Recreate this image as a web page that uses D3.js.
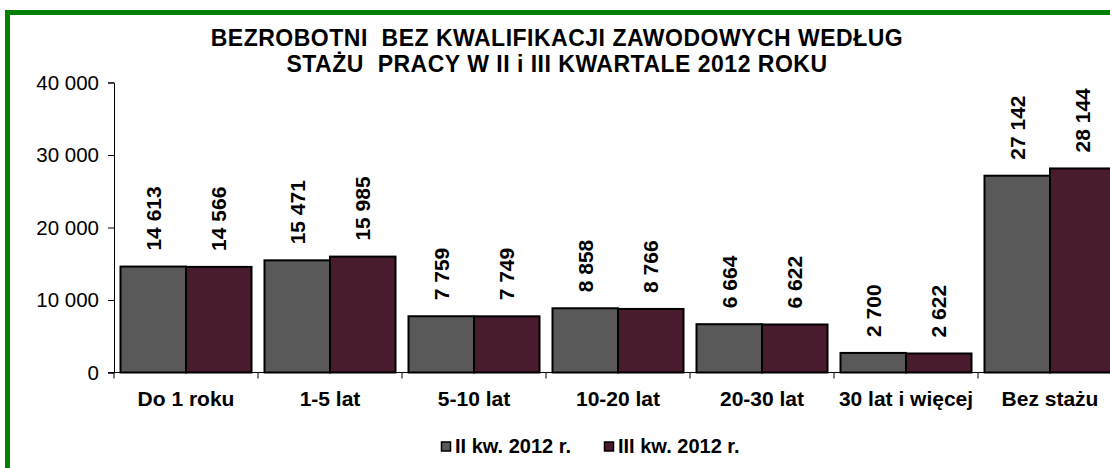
<!DOCTYPE html>
<html>
<head>
<meta charset="utf-8">
<script src="https://cdn.jsdelivr.net/npm/d3@7"></script>
<style>
  body { margin: 0; background: #fff; }
  text { font-family: "Liberation Sans", Arial, sans-serif; fill: #000; white-space: pre; }
</style>
</head>
<body>
<svg width="1110" height="468"></svg>
<script>
var categories = ['Do 1 roku', '1-5 lat', '5-10 lat', '10-20 lat', '20-30 lat', '30 lat i więcej', 'Bez stażu'];
var seriesNames = ['II kw. 2012 r.', 'III kw. 2012 r.'];
var q2Values = [14613, 15471, 7759, 8858, 6664, 2700, 27142];
var q3Values = [14566, 15985, 7749, 8766, 6622, 2622, 28144];
var yTicks = [0, 10000, 20000, 30000, 40000];
var titleLines = ['BEZROBOTNI  BEZ KWALIFIKACJI ZAWODOWYCH WEDŁUG', 'STAŻU  PRACY W II i III KWARTALE 2012 ROKU'];
var colors = ['#595959', '#481b2f'];

var svg = d3.select('svg');

// green frame, its right and bottom edges fall outside the picture
svg.append('rect')
  .attr('x', 7.5).attr('y', 12.5)
  .attr('width', 1300).attr('height', 700)
  .attr('fill', 'none')
  .attr('stroke', '#008000')
  .attr('stroke-width', 5);

// format numbers with a space as thousands separator
var fmt = function(v) {
  return d3.format(',')(v).replace(/,/g, ' ');
};

var y = d3.scaleLinear().domain([0, 40000]).range([372.5, 82.5]);
var x = d3.scaleBand().domain(categories).range([114, 1122]).padding(0);
var xs = d3.scaleBand().domain([0, 1]).range([6.5, x.bandwidth() - 6.5]).padding(0);

// title
svg.selectAll('text.title')
  .data(titleLines)
  .enter().append('text')
  .attr('class', 'title')
  .attr('x', 557)
  .attr('y', function(d, i) { return 46 + i * 26; })
  .attr('text-anchor', 'middle')
  .attr('font-size', 23)
  .attr('letter-spacing', 0.5)
  .attr('font-weight', 'bold')
  .text(function(d) { return d; });

// y axis
var yAxis = d3.axisLeft(y)
  .tickValues(yTicks)
  .tickSize(6)
  .tickPadding(9)
  .tickFormat(fmt);
var gy = svg.append('g').attr('transform', 'translate(114,0)').call(yAxis);
gy.select('.domain').attr('stroke', '#000').attr('stroke-width', 1);
gy.selectAll('.tick line').attr('stroke', '#000');
gy.selectAll('.tick text')
  .attr('font-size', 20.5)
  .attr('font-family', '"Liberation Sans", Arial, sans-serif')
  .attr('fill', '#000');

// x axis line with ticks between categories
svg.append('line')
  .attr('x1', 108).attr('x2', 1122)
  .attr('y1', y(0)).attr('y2', y(0))
  .attr('stroke', '#000');
svg.selectAll('line.xtick')
  .data(categories)
  .enter().append('line')
  .attr('class', 'xtick')
  .attr('x1', function(d) { return x(d); })
  .attr('x2', function(d) { return x(d); })
  .attr('y1', y(0)).attr('y2', y(0) + 6)
  .attr('stroke', '#000');

svg.selectAll('text.cat')
  .data(categories)
  .enter().append('text')
  .attr('class', 'cat')
  .attr('x', function(d) { return x(d) + x.bandwidth() / 2; })
  .attr('y', 406)
  .attr('text-anchor', 'middle')
  .attr('font-size', 21)
  .attr('font-weight', 'bold')
  .text(function(d) { return d; });

// bars
var series = [q2Values, q3Values];
series.forEach(function(vals, s) {
  var g = svg.append('g');
  g.selectAll('rect')
    .data(vals)
    .enter().append('rect')
    .attr('x', function(d, i) { return x(categories[i]) + xs(s); })
    .attr('y', function(d) { return y(d); })
    .attr('width', xs.bandwidth())
    .attr('height', function(d) { return y(0) - y(d); })
    .attr('fill', colors[s])
    .attr('stroke', '#000')
    .attr('stroke-width', 2);

  g.selectAll('text')
    .data(vals)
    .enter().append('text')
    .attr('transform', function(d, i) {
      var cx = x(categories[i]) + xs(s) + xs.bandwidth() / 2 + 7.5;
      return 'translate(' + cx + ',' + (y(d) - 16) + ') rotate(-90)';
    })
    .attr('font-size', 21)
    .attr('font-weight', 'bold')
    .text(function(d) { return fmt(d); });
});

// legend
var legendX = [441, 604];
var lg = svg.selectAll('g.legend')
  .data(seriesNames)
  .enter().append('g')
  .attr('class', 'legend')
  .attr('transform', function(d, i) { return 'translate(' + legendX[i] + ',0)'; });
lg.append('rect')
  .attr('x', 0.5).attr('y', 442)
  .attr('width', 9).attr('height', 9)
  .attr('fill', function(d, i) { return colors[i]; })
  .attr('stroke', '#000')
  .attr('stroke-width', 1.5);
lg.append('text')
  .attr('x', 14)
  .attr('y', 453)
  .attr('font-size', 20)
  .attr('font-weight', 'bold')
  .text(function(d) { return d; });
</script>
</body>
</html>
